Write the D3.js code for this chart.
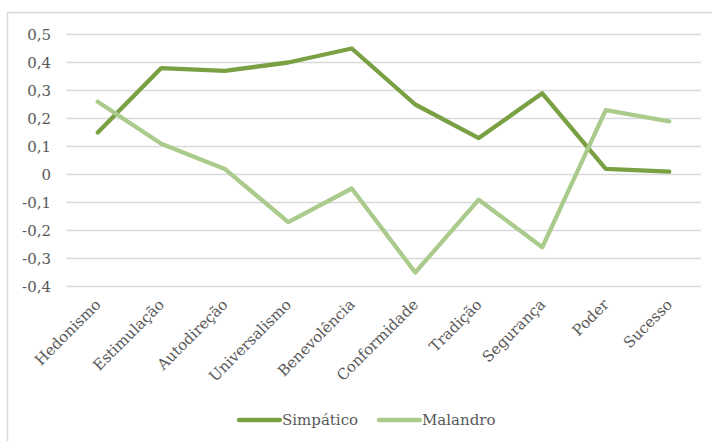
<!DOCTYPE html>
<html><head><meta charset="utf-8">
<script src="https://cdn.jsdelivr.net/npm/d3@7"></script>
<style>html,body{margin:0;padding:0;background:#fff;}svg{display:block;}</style>
</head><body>
<svg id="c" width="712" height="441"></svg>
<script>
const categories = ["Hedonismo","Estimulação","Autodireção","Universalismo","Benevolência","Conformidade","Tradição","Segurança","Poder","Sucesso"];
const simpatico = [0.15,0.38,0.37,0.40,0.45,0.25,0.13,0.29,0.02,0.01];
const malandro  = [0.26,0.11,0.02,-0.17,-0.05,-0.35,-0.09,-0.26,0.23,0.19];
const yTicks = [0.5,0.4,0.3,0.2,0.1,0,-0.1,-0.2,-0.3,-0.4];
const seriesNames = ["Simpático","Malandro"];
const colors = ["#79a042","#aacb8c"];

const svg = d3.select("#c");
const font = "'DejaVu Serif', serif";
const textColor = "#595959";

// outer border
svg.append("rect").attr("x",7.5).attr("y",12.5).attr("width",720).attr("height",450)
  .attr("fill","none").attr("stroke","#d9d9d9").attr("stroke-width",1.5);

const x = d3.scaleBand().domain(categories).range([66,701]);
const y = d3.scaleLinear().domain([-0.4,0.5]).range([286.5,34.5]);

// gridlines
svg.append("g").selectAll("line").data(yTicks).join("line")
  .attr("x1",66).attr("x2",701)
  .attr("y1",d=>y(d)).attr("y2",d=>y(d))
  .attr("stroke","#d9d9d9").attr("stroke-width",1.5);

// y axis labels
const fmt = d => d===0 ? "0" : d3.format(".1f")(d).replace(".",",").replace("−","-");
const yAxis = d3.axisLeft(y).tickValues(yTicks).tickSize(0).tickPadding(0).tickFormat(fmt);
const gy = svg.append("g").attr("transform","translate(51,0)").call(yAxis);
gy.select(".domain").remove();
gy.selectAll("text").attr("font-family",font).attr("font-size",15).attr("fill",textColor).attr("dy","0.35em");

// x axis labels
const xAxis = d3.axisBottom(x).tickSize(0).tickPadding(0);
const gx = svg.append("g").attr("transform","translate(0,286.5)").call(xAxis);
gx.select(".domain").remove();
gx.selectAll(".tick text")
  .attr("font-family",font).attr("font-size",15).attr("fill",textColor)
  .attr("text-anchor","end").attr("dy",0).attr("y",0)
  .attr("transform","translate(4,19) rotate(-45)");

// lines
const series = [simpatico, malandro];
const line = d3.line().x((d,i)=>x(categories[i])+x.bandwidth()/2).y(d=>y(d));
svg.append("g").selectAll("path").data(series).join("path")
  .attr("d",d=>line(d)).attr("fill","none")
  .attr("stroke",(d,i)=>colors[i]).attr("stroke-width",4.3)
  .attr("stroke-linejoin","round").attr("stroke-linecap","round");

// legend
const legendX = [239,379];
const lg = svg.append("g").selectAll("g").data(seriesNames).join("g")
  .attr("transform",(d,i)=>`translate(${legendX[i]},420)`);
lg.append("line").attr("x1",0).attr("x2",41).attr("y1",0).attr("y2",0)
  .attr("stroke",(d,i)=>colors[i]).attr("stroke-width",4.3).attr("stroke-linecap","round");
lg.append("text").attr("x",43).attr("y",0).attr("dy","0.35em")
  .attr("font-family",font).attr("font-size",15).attr("fill",textColor).text(d=>d);
</script>
</body></html>
